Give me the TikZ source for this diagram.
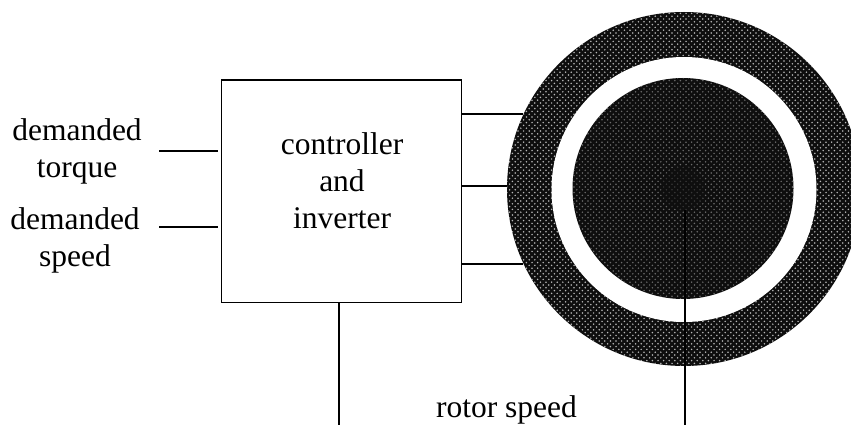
\documentclass[tikz,border=0pt]{standalone}
\usepackage{xcolor}
\usepackage{fontspec}
\setmainfont{Liberation Serif}
\usetikzlibrary{positioning,patterns}
\definecolor{DrvDark}{RGB}{14,14,14}
\pgfdeclarepatternformonly{halftone}{\pgfpoint{-1pt}{-1pt}}{\pgfpoint{4pt}{4pt}}{\pgfpoint{5.6pt}{5.6pt}}{
  \pgfpathcircle{\pgfqpoint{0pt}{0pt}}{0.85pt}
  \pgfpathcircle{\pgfqpoint{2.8pt}{2.8pt}}{0.85pt}
  \pgfusepath{fill}}

\begin{document}
\begin{tikzpicture}[
      x=1pt, y=-1pt,
      font=\fontsize{31.5}{37}\selectfont,
      block/.style={draw=black, line width=1.3pt, minimum width=239.5pt, minimum height=222.7pt, inner sep=0pt},
      caption/.style={align=center, inner sep=0pt},
      disc/.style={circle, inner sep=0pt, fill=DrvDark, postaction={pattern=halftone, pattern color=#1}},
      gap/.style={circle, inner sep=0pt, fill=white},
      wire/.style={line width=1.3pt, draw=black}
    ]
    \useasboundingbox (0,0) rectangle (851,425);

    \node[block] (ctrl) at (341.4,191.3) {};
    \node[caption] (ctrltext) at (342,180.5) {controller\\and\\inverter};
    \node[disc=white!72!black, minimum size=354pt] (stator) at (684,189) {};
    \node[gap, minimum size=265pt] (airgap) at (684,189.5) {};
    \node[disc=white!42!black, minimum size=221pt] (rotor) at (683,188.5) {};
    \node[disc=white!22!black, minimum size=44pt] (hub) at (683,188) {};

    \node[caption] (torque) at (77,151) {demanded\\torque};
    \node[caption] (speed) at (75,240.5) {demanded\\speed};
    \node[caption] (rotorspeed) at (506.5,410) {rotor speed};

    \coordinate (torquein) at (159,151);
    \coordinate (speedin) at (159,227);
    \coordinate (ctrlfoot) at (339,425);
    \coordinate (shaftfoot) at (685,425);

    \draw[wire] (torquein) -- ([xshift=-3.5pt]ctrl.west |- torquein);
    \draw[wire] (speedin) -- ([xshift=-3.5pt]ctrl.west |- speedin);
    \draw[wire] (ctrl.east |- stator.155) -- (stator.155);
    \draw[wire] (ctrl.east |- stator.179) -- (stator.179);
    \draw[wire] (ctrl.east |- stator.205) -- (stator.205);
    \draw[wire] (ctrl.south -| ctrlfoot) -- (ctrlfoot);
    \draw[wire] (hub.south -| shaftfoot) -- (shaftfoot);
  \end{tikzpicture}
\end{document}
